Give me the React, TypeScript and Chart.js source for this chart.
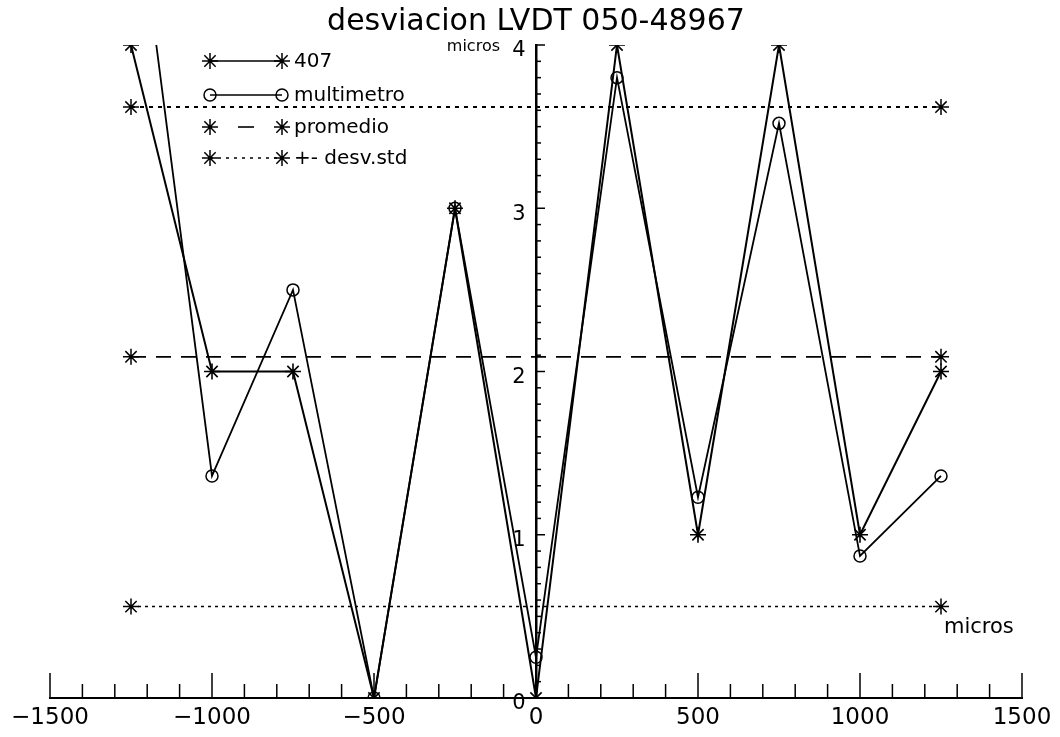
import React, { useEffect, useRef } from "react";
import { Chart, registerables } from "chart.js";

Chart.register(...registerables);

// Posiciones del LVDT (micros) y desviaciones medidas
const posiciones = [-1250, -1000, -750, -500, -250, 0, 250, 500, 750, 1000, 1250];
const serie407 = [4, 2, 2, 0, 3, 0, 4, 1, 4, 1, 2];
const serieMultimetro = [5.2, 1.36, 2.5, 0, 3, 0.25, 3.8, 1.23, 3.52, 0.87, 1.36];

// Promedio y banda de +- desviación estándar (extremos de las rectas)
const extremos = [-1250, 1250];
const promedio = [2.09, 2.09];
const desvSuperior = [3.62, 3.62];
const desvInferior = [0.56, 0.56];

const xTicks = [-1500, -1000, -500, 0, 500, 1000, 1500];
const yTicks = [0, 1, 2, 3, 4];

const titulo = "desviacion LVDT 050-48967";
const leyenda = ["407", "multimetro", "promedio", "+- desv.std"];

const FONT = "'DejaVu Sans', sans-serif";

const pares = (xs: number[], ys: number[]) => xs.map((x, i) => ({ x, y: ys[i] }));

function asterisco(ctx: CanvasRenderingContext2D, x: number, y: number, r: number) {
  ctx.beginPath();
  ctx.moveTo(x - r, y);
  ctx.lineTo(x + r, y);
  ctx.moveTo(x, y - r);
  ctx.lineTo(x, y + r);
  const d = r * 0.707;
  ctx.moveTo(x - d, y - d);
  ctx.lineTo(x + d, y + d);
  ctx.moveTo(x - d, y + d);
  ctx.lineTo(x + d, y - d);
  ctx.stroke();
}

function circulo(ctx: CanvasRenderingContext2D, x: number, y: number, r: number) {
  ctx.beginPath();
  ctx.arc(x, y, r, 0, Math.PI * 2);
  ctx.stroke();
}

const decoracion = {
  id: "decoracion",
  afterDraw(chart: any) {
    const ctx: CanvasRenderingContext2D = chart.ctx;
    const xs = chart.scales.x;
    const ys = chart.scales.y;
    ctx.save();
    ctx.strokeStyle = "#000";
    ctx.fillStyle = "#000";

    // marcas del eje x hacia adentro (mayores cada 500, menores cada 100)
    ctx.lineWidth = 1.5;
    const yBase = ys.getPixelForValue(0);
    for (let v = xs.min; v <= xs.max; v += 100) {
      const px = xs.getPixelForValue(v);
      const largo = v % 500 === 0 ? 25 : 14;
      ctx.beginPath();
      ctx.moveTo(px, yBase);
      ctx.lineTo(px, yBase - largo);
      ctx.stroke();
    }
    // marcas del eje y (mayores cada 1, menores cada 0.1)
    const xBase = xs.getPixelForValue(0);
    for (let i = 0; i <= 40; i++) {
      const py = ys.getPixelForValue(i / 10);
      const largo = i % 10 === 0 ? 9 : 5;
      ctx.beginPath();
      ctx.moveTo(xBase, py);
      ctx.lineTo(xBase + largo, py);
      ctx.stroke();
    }

    // título
    ctx.textAlign = "center";
    ctx.textBaseline = "middle";
    ctx.font = `30px ${FONT}`;
    ctx.fillText(titulo, xBase, 22);

    // rótulos de unidades
    ctx.font = `16px ${FONT}`;
    ctx.textAlign = "right";
    ctx.fillText("micros", xBase - 36, ys.getPixelForValue(4) + 2);
    ctx.font = `21px ${FONT}`;
    ctx.textAlign = "left";
    ctx.fillText("micros", 944, 628);

    // leyenda
    const xa = 210;
    const xb = 282;
    const filas = [61, 95, 127, 158];
    ctx.font = `20px ${FONT}`;
    ctx.textAlign = "left";
    filas.forEach((fy, i) => {
      ctx.lineWidth = 1.6;
      ctx.setLineDash(i === 3 ? [3, 5] : []);
      ctx.beginPath();
      if (i === 2) {
        ctx.moveTo(238, fy);
        ctx.lineTo(254, fy);
      } else {
        ctx.moveTo(xa, fy);
        ctx.lineTo(xb, fy);
      }
      ctx.stroke();
      ctx.setLineDash([]);
      ctx.lineWidth = 1.5;
      if (i === 1) {
        circulo(ctx, xa, fy, 6);
        circulo(ctx, xb, fy, 6);
      } else {
        asterisco(ctx, xa, fy, 8);
        asterisco(ctx, xb, fy, 8);
      }
      ctx.fillText(leyenda[i], 294, fy + 1);
    });
    ctx.restore();
  },
};

export default function App() {
  const ref = useRef<HTMLCanvasElement | null>(null);

  useEffect(() => {
    if (!ref.current) return;
    const negro = "#000";
    const chart = new Chart(ref.current, {
      type: "line",
      data: {
        datasets: [
          {
            label: leyenda[0],
            data: pares(posiciones, serie407),
            borderColor: negro,
            borderWidth: 2,
            pointStyle: "star",
            pointRadius: 8,
            pointBorderWidth: 1.6,
            pointBorderColor: negro,
            tension: 0,
          },
          {
            label: leyenda[1],
            data: pares(posiciones, serieMultimetro),
            borderColor: negro,
            borderWidth: 1.8,
            pointStyle: "circle",
            pointRadius: 6,
            pointBorderWidth: 1.5,
            pointBorderColor: negro,
            pointBackgroundColor: "rgba(0,0,0,0)",
            tension: 0,
          },
          {
            label: leyenda[2],
            data: pares(extremos, promedio),
            borderColor: negro,
            borderWidth: 1.8,
            borderDash: [15, 10],
            pointStyle: "star",
            pointRadius: 8,
            pointBorderWidth: 1.5,
            pointBorderColor: negro,
          },
          {
            label: leyenda[3],
            data: pares(extremos, desvSuperior),
            borderColor: negro,
            borderWidth: 2,
            borderDash: [4, 5],
            pointStyle: "star",
            pointRadius: 8,
            pointBorderWidth: 1.5,
            pointBorderColor: negro,
          },
          {
            label: leyenda[3],
            data: pares(extremos, desvInferior),
            borderColor: negro,
            borderWidth: 1.5,
            borderDash: [3, 4],
            pointStyle: "star",
            pointRadius: 8,
            pointBorderWidth: 1.5,
            pointBorderColor: negro,
          },
        ],
      },
      options: {
        animation: false,
        responsive: false,
        layout: { padding: { left: 50, right: 38, top: 45, bottom: 0 } },
        plugins: {
          legend: { display: false },
          title: { display: false },
          tooltip: { enabled: false },
        },
        scales: {
          x: {
            type: "linear",
            position: "bottom",
            min: xTicks[0],
            max: xTicks[xTicks.length - 1],
            afterFit: (scale: any) => {
              scale.height = 39;
            },
            afterBuildTicks: (scale: any) => {
              scale.ticks = xTicks.map((v) => ({ value: v }));
            },
            grid: { display: false, drawTicks: false },
            border: { display: true, color: negro, width: 2 },
            ticks: {
              autoSkip: false,
              maxRotation: 0,
              color: negro,
              padding: 6,
              font: { family: FONT, size: 23 },
              callback: (v: any) => (Number(v) < 0 ? "\u2212" + Math.abs(Number(v)) : String(v)),
            },
          },
          y: {
            type: "linear",
            position: { x: 0 } as any,
            min: yTicks[0],
            max: yTicks[yTicks.length - 1],
            afterBuildTicks: (scale: any) => {
              scale.ticks = yTicks.map((v) => ({ value: v }));
            },
            grid: { display: false, drawTicks: false },
            border: { display: true, color: negro, width: 2.5 },
            ticks: {
              color: negro,
              padding: 12,
              labelOffset: 6,
              font: { family: FONT, size: 21 },
              callback: (v: any) => String(v) + "\u2002",
            },
          },
        },
      },
      plugins: [decoracion],
    });
    return () => chart.destroy();
  }, []);

  return (
    <div style={{ position: "fixed", left: 0, top: 0, width: 1060, height: 737, background: "#fff" }}>
      <canvas ref={ref} width={1060} height={737} style={{ display: "block" }} />
    </div>
  );
}
